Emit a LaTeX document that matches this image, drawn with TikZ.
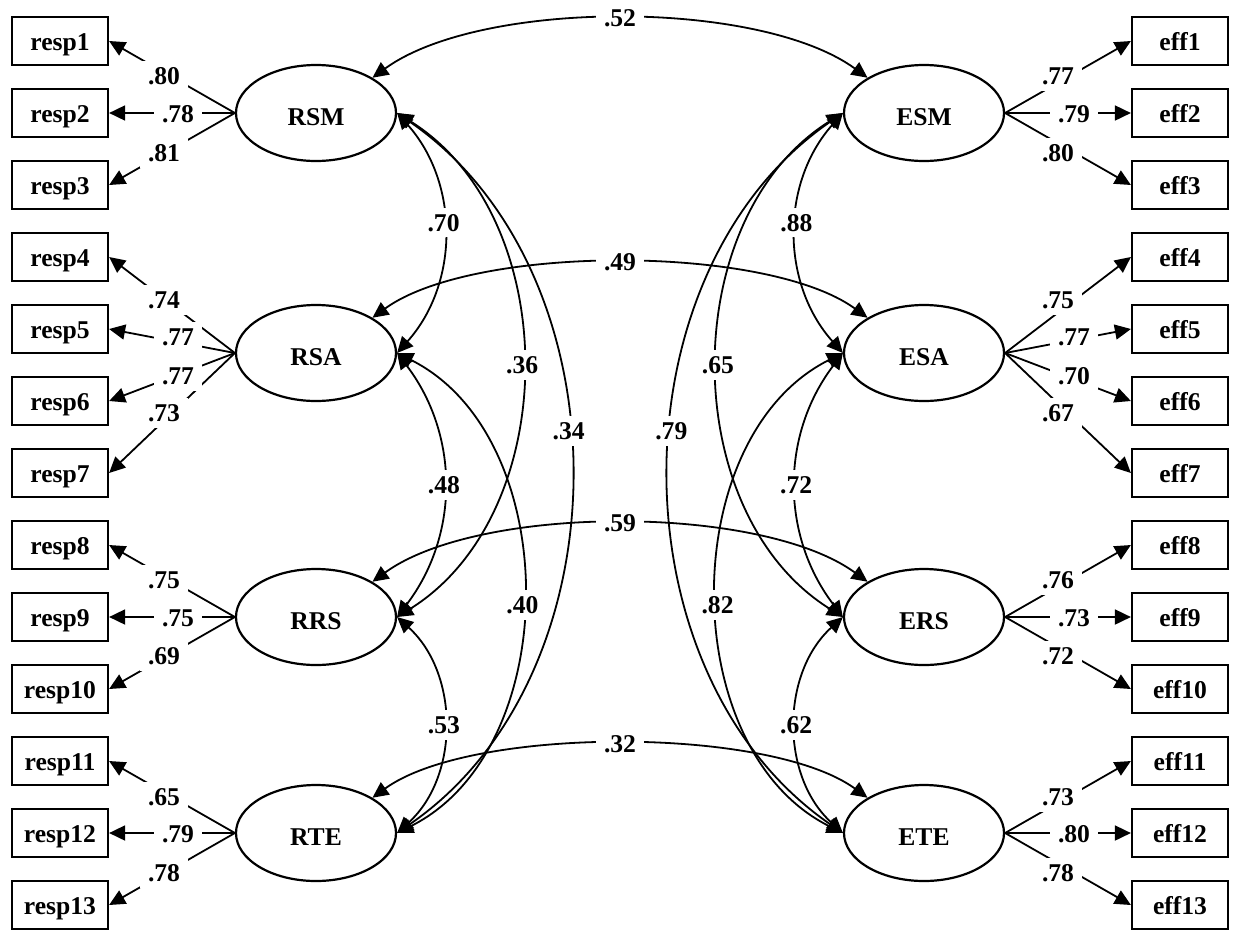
\documentclass[tikz,border=0pt]{standalone}
\usepackage{fontspec}
\setmainfont{Liberation Serif}
\usetikzlibrary{arrows.meta,shapes.geometric}

\begin{document}
\begin{tikzpicture}[x=1pt,y=1pt,
  every node/.style={font=\fontsize{25.6}{30}\selectfont\bfseries},
  obs/.style={draw,line width=2.2pt,minimum width=96pt,minimum height=48pt,inner sep=0pt,
    text height=19pt,text depth=0pt},
  lat/.style={draw,ellipse,line width=2.2pt,minimum width=160pt,minimum height=96pt,inner sep=0pt,
    text height=24pt,text depth=0pt},
  lbl/.style={fill=white,inner xsep=8pt,inner ysep=6pt},
  load/.style={line width=1.8pt,-{Triangle[length=16pt,width=15pt]}},
  cov/.style={line width=1.8pt,{Triangle[length=16pt,width=15pt]}-{Triangle[length=16pt,width=15pt]}}]

\useasboundingbox (0,0) rectangle (1233,-930);

% indicator boxes
\foreach \i in {1,...,13} {
  \node[obs] (r\i) at (60,{-41-72*(\i-1)}) {resp\i};
  \node[obs] (e\i) at (1180,{-41-72*(\i-1)}) {eff\i};
}

% latent factors
\node[lat] (RSM) at (316,-113) {RSM};
\node[lat] (RSA) at (316,-353) {RSA};
\node[lat] (RRS) at (316,-617) {RRS};
\node[lat] (RTE) at (316,-833) {RTE};
\node[lat] (ESM) at (924,-113) {ESM};
\node[lat] (ESA) at (924,-353) {ESA};
\node[lat] (ERS) at (924,-617) {ERS};
\node[lat] (ETE) at (924,-833) {ETE};

% factor loadings
\foreach \f/\i in {RSM/1,RSM/2,RSM/3,RSA/4,RSA/5,RSA/6,RSA/7,RRS/8,RRS/9,RRS/10,RTE/11,RTE/12,RTE/13}
  \draw[load] (\f.west) -- (r\i.east);
\foreach \f/\i in {ESM/1,ESM/2,ESM/3,ESA/4,ESA/5,ESA/6,ESA/7,ERS/8,ERS/9,ERS/10,ETE/11,ETE/12,ETE/13}
  \draw[load] (\f.east) -- (e\i.west);

% loading values
\foreach \x/\y/\v [count=\k] in {164/76/.80,178/114/.78,164/153/.81,
    164/300/.74,178/337/.77,178/376/.77,164/413/.73,
    164/580/.75,178/618/.75,164/656/.69,
    164/797/.65,178/834/.79,164/873/.78}
  \node[lbl] (lr\k) at (\x,-\y) {\v};
\foreach \x/\y/\v [count=\k] in {1058/76/.77,1074/114/.79,1058/153/.80,
    1058/300/.75,1074/337/.77,1074/376/.70,1058/413/.67,
    1058/580/.76,1074/618/.73,1058/656/.72,
    1058/797/.73,1074/834/.80,1058/873/.78}
  \node[lbl] (le\k) at (\x,-\y) {\v};

% correlations within the left block
\draw[cov] (RSM.east) to[bend left=41.8] node[lbl,pos=0.46] (c1) {.70} (RSA.east);
\draw[cov] (RSA.east) to[bend left=37.3] node[lbl,pos=0.5] (c2) {.48} (RRS.east);
\draw[cov] (RRS.east) to[bend left=47.8] node[lbl,pos=0.5] (c3) {.53} (RTE.east);
\draw[cov] (RSM.east) to[bend left=58] node[lbl,pos=0.5] (c4) {.36} (RRS.east);
\draw[cov] (RSA.east) to[bend left=63.4] node[lbl,pos=0.52] (c5) {.40} (RTE.east);
\draw[cov] (RSM.east) to[bend left=55.4] node[lbl,pos=0.45] (c6) {.34} (RTE.east);

% correlations within the right block
\draw[cov] (ESM.west) to[bend right=41.8] node[lbl,pos=0.46] (c7) {.88} (ESA.west);
\draw[cov] (ESA.west) to[bend right=37.3] node[lbl,pos=0.5] (c8) {.72} (ERS.west);
\draw[cov] (ERS.west) to[bend right=47.8] node[lbl,pos=0.5] (c9) {.62} (ETE.west);
\draw[cov] (ESM.west) to[bend right=58] node[lbl,pos=0.5] (c10) {.65} (ERS.west);
\draw[cov] (ESA.west) to[bend right=63.4] node[lbl,pos=0.52] (c11) {.82} (ETE.west);
\draw[cov] (ESM.west) to[bend right=55.4] node[lbl,pos=0.45] (c12) {.79} (ETE.west);

% correlations between matching factors
\draw[cov] (RSM.32) to[out=36,in=144,distance=134pt] node[lbl] (c13) {.52} (ESM.148);
\draw[cov] (RSA.32) to[out=36,in=144,distance=125pt] node[lbl] (c14) {.49} (ESA.148);
\draw[cov] (RRS.32) to[out=36,in=144,distance=132pt] node[lbl] (c15) {.59} (ERS.148);
\draw[cov] (RTE.32) to[out=36,in=144,distance=122pt] node[lbl] (c16) {.32} (ETE.148);
\end{tikzpicture}
\end{document}
